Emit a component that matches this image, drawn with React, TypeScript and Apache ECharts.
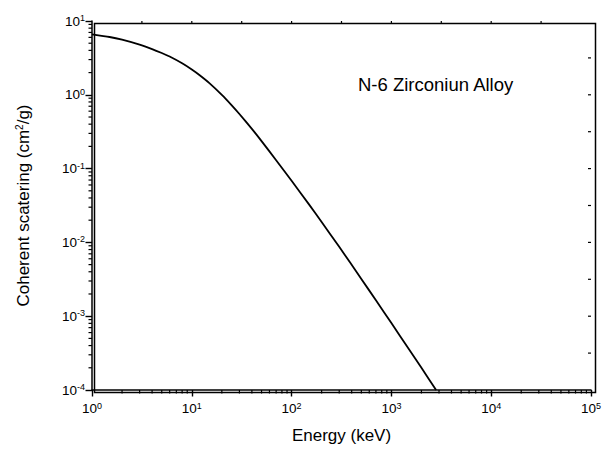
import React, { useEffect, useRef } from "react";
import * as echarts from "echarts";

const energy = [1, 1.5, 2, 3, 4, 5, 6, 8, 10, 12, 15, 20, 25, 30, 40, 50, 70, 100, 150, 200, 300, 500, 700, 1000, 1500, 2000, 2805];
const scattering = [6.59, 6.07, 5.58, 4.78, 4.16, 3.68, 3.3, 2.67, 2.2, 1.84, 1.44, 0.998, 0.726, 0.55, 0.345, 0.236, 0.13, 0.0684, 0.0325, 0.0189, 0.00871, 0.0032, 0.00164, 0.000807, 0.000357, 0.0002, 0.0001];

const X_MIN = 1;
const X_MAX = 1e5;
const Y_MIN = 1e-4;
const Y_MAX = 10;
const xDecades = [0, 1, 2, 3, 4];
const yDecades = [-4, -3, -2, -1, 0];
const minorMultipliers = [2, 3, 4, 5, 6, 7, 8, 9];

const annotation = "N-6 Zirconiun Alloy";
const xTitle = "Energy (keV)";

const FONT = "Liberation Sans, Arial, sans-serif";

export default function App() {
  const ref = useRef<HTMLDivElement>(null);
  useEffect(() => {
    if (!ref.current) return;
    const chart = echarts.init(ref.current, null, { renderer: "svg" });

    const xMinor: number[][] = [];
    xDecades.forEach((d) => minorMultipliers.forEach((m) => xMinor.push([m * Math.pow(10, d), Y_MIN])));
    const yMinor: number[][] = [];
    yDecades.forEach((d) => minorMultipliers.forEach((m) => yMinor.push([X_MIN, m * Math.pow(10, d)])));
    const topTicks: number[][] = [];
    for (let k = 1; k <= 9; k++) topTicks.push([Math.pow(10, k / 2), Y_MAX]);
    const rightTicks: number[][] = [];
    for (let k = -7; k <= 1; k++) rightTicks.push([X_MAX, Math.pow(10, k / 2)]);

    const supLabel = (v: number) => {
      const e = Math.round(Math.log10(v));
      return `{b|10}{s|${e}}`;
    };
    const labelRich = {
      b: { fontSize: 13.5, fontFamily: FONT, color: "#000" },
      s: { fontSize: 9, fontFamily: FONT, color: "#000", verticalAlign: "bottom", padding: [0, 0, 6, 0] },
    };

    const tickSeries = (data: number[][], dx: number, dy: number) => ({
      type: "custom",
      coordinateSystem: "cartesian2d",
      clip: false,
      silent: true,
      z: 5,
      data,
      renderItem: (_p: any, api: any) => {
        const p = api.coord([api.value(0), api.value(1)]);
        return {
          type: "line",
          shape: { x1: p[0], y1: p[1], x2: p[0] + dx, y2: p[1] + dy },
          style: { stroke: "#000", lineWidth: 1.2 },
        };
      },
    });

    chart.setOption({
      animation: false,
      backgroundColor: "#fff",
      grid: { left: 92, top: 21, right: 11, bottom: 60, containLabel: false },
      xAxis: {
        type: "log",
        logBase: 10,
        min: X_MIN,
        max: X_MAX,
        name: xTitle,
        nameLocation: "middle",
        nameGap: 37,
        nameTextStyle: { fontSize: 17, fontFamily: FONT, color: "#000" },
        axisLine: { show: true, onZero: false, lineStyle: { color: "#000", width: 1.5 } },
        axisTick: { show: true, inside: false, length: 6.5, lineStyle: { color: "#000", width: 1.4 } },
        axisLabel: { formatter: supLabel, rich: labelRich, fontSize: 13.5, fontFamily: FONT, color: "#000", margin: 11 },
        splitLine: { show: false },
      },
      yAxis: {
        type: "log",
        logBase: 10,
        min: Y_MIN,
        max: Y_MAX,
        name: "Coherent scatering (cm{s|2}/g)",
        nameLocation: "middle",
        nameGap: 60,
        nameTextStyle: {
          fontSize: 17,
          fontFamily: FONT,
          color: "#000",
          rich: {
            s: { fontSize: 10, fontFamily: FONT, color: "#000", verticalAlign: "bottom", padding: [0, 0, 8, 0] },
          },
        },
        axisLine: { show: true, onZero: false, lineStyle: { color: "#000", width: 1.5 } },
        axisTick: { show: true, inside: false, length: 6.5, lineStyle: { color: "#000", width: 1.4 } },
        axisLabel: { formatter: supLabel, rich: labelRich, fontSize: 13.5, fontFamily: FONT, color: "#000", margin: 7 },
        splitLine: { show: false },
      },
      graphic: [
        {
          type: "rect",
          left: 92,
          top: 21,
          shape: { width: 501, height: 369 },
          style: { fill: "none", stroke: "#000", lineWidth: 1.5 },
          silent: true,
          z: 1,
        },
        {
          type: "text",
          left: 358,
          top: 75,
          style: { text: annotation, fontSize: 18.5, fontFamily: FONT, fill: "#000" },
          z: 10,
        },
      ],
      series: [
        {
          type: "line",
          data: energy.map((e, i) => [e, scattering[i]]),
          showSymbol: false,
          smooth: 0.2,
          lineStyle: { color: "#000", width: 1.8 },
          z: 4,
        },
        tickSeries(xMinor, 0, 3.5),
        tickSeries(yMinor, -3.5, 0),
        tickSeries(topTicks, 0, 3),
        tickSeries(rightTicks, -3, 0),
      ],
    });
    return () => chart.dispose();
  }, []);
  return <div ref={ref} style={{ width: 604, height: 450, position: "absolute", left: 0, top: 0 }} />;
}
